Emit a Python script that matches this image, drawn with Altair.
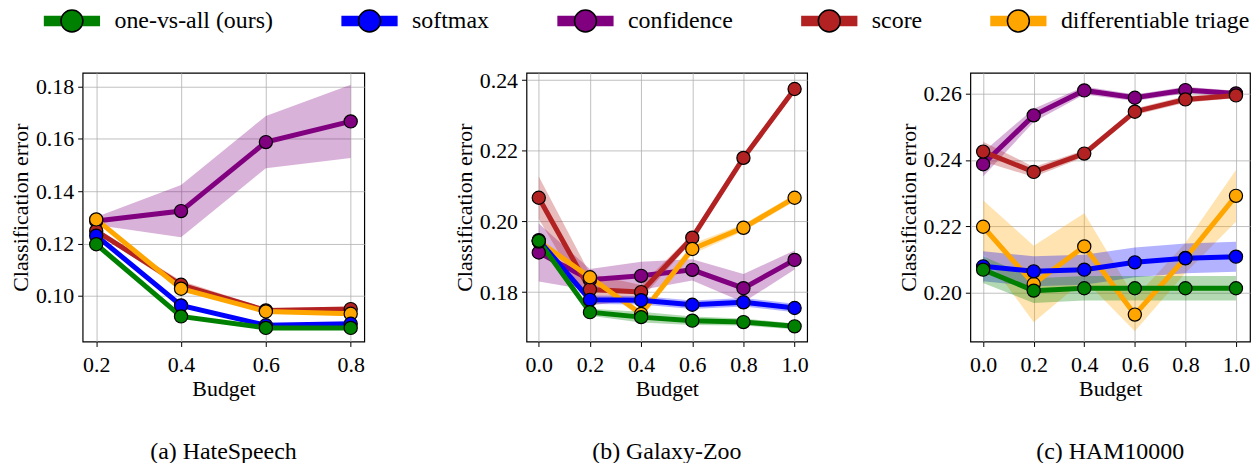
import altair as alt
import pandas as pd

METHODS = ["one-vs-all (ours)", "softmax", "confidence", "score", "differentiable triage"]
COLORS = ["#008000", "#0000ff", "#800080", "#b22222", "#ffa500"]
DRAW_ORDER = ["confidence", "score", "differentiable triage", "softmax", "one-vs-all (ours)"]

# (a) HateSpeech
hate_budget = [0.2, 0.4, 0.6, 0.8]
hate_ova = [0.1197, 0.0921, 0.0877, 0.0877]
hate_softmax = [0.1230, 0.0963, 0.0887, 0.0893]
hate_confidence = [0.1286, 0.1324, 0.1588, 0.1667]
hate_score = [0.1248, 0.1042, 0.0944, 0.0949]
hate_triage = [0.1292, 0.1027, 0.0940, 0.0931]
hate_ova_err = [0.0006, 0.0006, 0.0006, 0.0006]
hate_softmax_err = [0.0006, 0.0006, 0.0006, 0.0006]
hate_confidence_err = [0.0015, 0.0100, 0.0100, 0.0140]
hate_score_err = [0.0008, 0.0015, 0.0008, 0.0008]
hate_triage_err = [0.0006, 0.0008, 0.0006, 0.0006]

# (b) Galaxy-Zoo
gal_budget = [0.0, 0.2, 0.4, 0.6, 0.8, 1.0]
gal_ova = [0.1945, 0.1743, 0.1729, 0.1719, 0.1715, 0.1703]
gal_softmax = [0.1947, 0.1778, 0.1777, 0.1764, 0.1771, 0.1755]
gal_confidence = [0.1912, 0.1835, 0.1846, 0.1863, 0.1811, 0.1891]
gal_score = [0.2067, 0.1807, 0.1800, 0.1954, 0.2180, 0.2375]
gal_triage = [0.1943, 0.1842, 0.1738, 0.1922, 0.1982, 0.2067]
gal_ova_err = [0.0010, 0.0010, 0.0015, 0.0012, 0.0010, 0.0008]
gal_softmax_err = [0.0012, 0.0012, 0.0012, 0.0012, 0.0012, 0.0012]
gal_confidence_err = [0.0082, 0.0030, 0.0040, 0.0030, 0.0040, 0.0027]
gal_score_err = [0.0060, 0.0045, 0.0020, 0.0010, 0.0010, 0.0010]
gal_triage_err = [0.0010, 0.0010, 0.0010, 0.0015, 0.0010, 0.0010]

# (c) HAM10000
ham_budget = [0.0, 0.2, 0.4, 0.6, 0.8, 1.0]
ham_ova = [0.2070, 0.2007, 0.2014, 0.2014, 0.2014, 0.2014]
ham_softmax = [0.2080, 0.2065, 0.2070, 0.2092, 0.2104, 0.2109]
ham_confidence = [0.2387, 0.2534, 0.2609, 0.2587, 0.2610, 0.2600]
ham_score = [0.2425, 0.2364, 0.2419, 0.2545, 0.2582, 0.2594]
ham_triage = [0.2199, 0.2027, 0.2140, 0.1935, 0.2105, 0.2292]
ham_ova_err = [0.0040, 0.0037, 0.0037, 0.0037, 0.0037, 0.0037]
ham_softmax_err = [0.0045, 0.0045, 0.0045, 0.0045, 0.0045, 0.0045]
ham_confidence_err = [0.0037, 0.0020, 0.0012, 0.0010, 0.0010, 0.0008]
ham_score_err = [0.0030, 0.0015, 0.0010, 0.0010, 0.0010, 0.0008]
ham_triage_err = [0.0080, 0.0115, 0.0100, 0.0050, 0.0045, 0.0078]

FONT = "Liberation Serif, Times New Roman, Times, serif"
LEG_X = -22.75
LEG_Y = -64
LEG_FS = 24

# both legend symbols span the same horizontal extent (-2.5..2.5 units) so the
# two overlaid legends lay out identically
BAR_PATH = "M-2.5,-0.41L2.5,-0.41L2.5,0.41L-2.5,0.41Z"
DOT_PATH = "M-2.5,0L-2.5,0M2.5,0L2.5,0M1,0A1,1,0,1,1,-1,0A1,1,0,1,1,1,0Z"

bar_legend = alt.Legend(
    orient="none", legendX=LEG_X, legendY=LEG_Y, direction="horizontal", title=None,
    symbolType=BAR_PATH, symbolSize=484,
    symbolStrokeWidth=1.5, symbolStrokeColor="transparent", symbolOpacity=1,
    labelFont=FONT, labelFontSize=LEG_FS, labelColor="black", labelOpacity=0, labelLimit=500,
    labelOffset=30.75, columnPadding=65, padding=0,
)
dot_legend = alt.Legend(
    orient="none", legendX=LEG_X, legendY=LEG_Y, direction="horizontal", title=None,
    symbolType=DOT_PATH, symbolSize=484,
    symbolStrokeWidth=1.5, symbolStrokeColor="black", symbolOpacity=1,
    labelFont=FONT, labelFontSize=LEG_FS, labelColor="black", labelLimit=500,
    labelOffset=30.75, columnPadding=65, padding=0,
)


def panel(budget, series, errs, xdom, ydom, xticks, yticks, width, height, caption):
    rows = []
    for m in DRAW_ORDER:
        i = METHODS.index(m)
        for b, v, e in zip(budget, series[i], errs[i]):
            rows.append({"budget": b, "error": v, "lo": v - e, "hi": v + e,
                         "method": m, "method_band": m})
    df = pd.DataFrame(rows)
    x = alt.X("budget:Q", scale=alt.Scale(domain=xdom, nice=False, zero=False),
              axis=alt.Axis(values=xticks, format=".1f", title="Budget",
                            labelFont=FONT, titleFont=FONT, labelPadding=8, titlePadding=3))
    y = alt.Y("error:Q", scale=alt.Scale(domain=ydom, nice=False, zero=False),
              axis=alt.Axis(values=yticks, format=".2f", title="Classification error",
                            titlePadding=3, labelFont=FONT, titleFont=FONT))
    base = alt.Chart(df)
    band = base.mark_area(opacity=0.3).encode(
        x=x, y=alt.Y("lo:Q", scale=alt.Scale(domain=ydom, nice=False, zero=False)),
        y2="hi:Q",
        color=alt.Color("method_band:N", sort=METHODS,
                        scale=alt.Scale(domain=METHODS, range=COLORS), legend=bar_legend),
    )
    line = base.mark_line(strokeWidth=5).encode(
        x=x, y=y,
        stroke=alt.Stroke("method:N", scale=alt.Scale(domain=METHODS, range=COLORS), legend=None),
    )
    pts = base.mark_circle(size=175, stroke="black", strokeWidth=1.2, opacity=1).encode(
        x=x, y=y,
        fill=alt.Fill("method:N", sort=METHODS, scale=alt.Scale(range=COLORS), legend=dot_legend),
    )
    return alt.layer(band, line, pts).properties(
        width=width, height=height,
        title=alt.TitleParams(text=caption, orient="bottom", font=FONT, fontSize=24,
                              fontWeight="normal", color="black", offset=41, anchor="middle"),
    )


p1 = panel(hate_budget,
           [hate_ova, hate_softmax, hate_confidence, hate_score, hate_triage],
           [hate_ova_err, hate_softmax_err, hate_confidence_err, hate_score_err, hate_triage_err],
           [0.168, 0.832], [0.0825, 0.1853], [0.2, 0.4, 0.6, 0.8],
           [0.10, 0.12, 0.14, 0.16, 0.18], 283, 270, "(a) HateSpeech")
p2 = panel(gal_budget,
           [gal_ova, gal_softmax, gal_confidence, gal_score, gal_triage],
           [gal_ova_err, gal_softmax_err, gal_confidence_err, gal_score_err, gal_triage_err],
           [-0.048, 1.049], [0.166, 0.2421], [0.0, 0.2, 0.4, 0.6, 0.8, 1.0],
           [0.18, 0.20, 0.22, 0.24], 282, 270, "(b) Galaxy-Zoo")
p3 = panel(ham_budget,
           [ham_ova, ham_softmax, ham_confidence, ham_score, ham_triage],
           [ham_ova_err, ham_softmax_err, ham_confidence_err, ham_score_err, ham_triage_err],
           [-0.0505, 1.0555], [0.1854, 0.2662], [0.0, 0.2, 0.4, 0.6, 0.8, 1.0],
           [0.20, 0.22, 0.24, 0.26], 281, 270, "(c) HAM10000")

chart = alt.hconcat(p1, p2, p3, spacing=87).resolve_scale(
    color="shared", fill="shared", stroke="shared"
).properties(
    padding={"left": 0, "top": 0, "right": 0, "bottom": 0}, background="white"
).configure(
    font=FONT
).configure_view(
    stroke="black", strokeWidth=1.2
).configure_axis(
    labelFont=FONT, labelFontSize=22, labelColor="black",
    titleFont=FONT, titleFontSize=22, titleFontWeight="normal", titleColor="black",
    gridColor="#b0b0b0", gridWidth=0.8, tickColor="black", tickSize=5, tickWidth=1,
    domain=False, labelPadding=4, titlePadding=4,
).configure_legend(
    labelFont=FONT, labelFontSize=LEG_FS
)

chart.save("out.html", embed_options={"renderer": "svg", "actions": False})
